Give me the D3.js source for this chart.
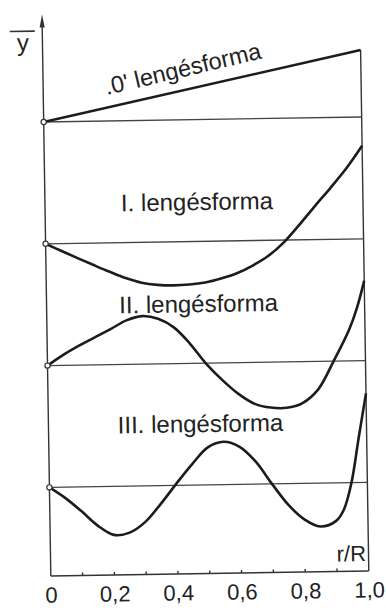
<!DOCTYPE html>
<html>
<head>
<meta charset="utf-8">
<script src="https://cdn.jsdelivr.net/npm/d3@7"></script>
<style>
  html, body { margin: 0; padding: 0; background: #fff; }
  svg { display: block; }
  text { font-family: "Liberation Sans", Arial, sans-serif; fill: #222; }
</style>
</head>
<body>
<svg id="chart" width="386" height="608"></svg>
<script>
// ---- data (relative deflection ȳ, arbitrary units) ----
const modeLabels = [".0' lengésforma", "I. lengésforma", "II. lengésforma", "III. lengésforma"];

const r0 = [0, 1];
const y0 = [0, 67];

const r1 = [0, 0.05, 0.1, 0.15, 0.2, 0.25, 0.3, 0.35, 0.4, 0.45, 0.5, 0.55, 0.6, 0.65, 0.7, 0.75, 0.8, 0.85, 0.9, 0.95, 1.0];
const y1 = [0, -7.5, -14.8, -22, -29, -35.5, -40.4, -42.8, -43.6, -43, -41.2, -37.5, -32.5, -25, -15.5, -2, 15.5, 34, 52, 71, 93];

const r2 = [0, 0.05, 0.1, 0.15, 0.2, 0.25, 0.3, 0.35, 0.4, 0.45, 0.5, 0.55, 0.6, 0.65, 0.7, 0.75, 0.8, 0.85, 0.9, 0.95, 0.975, 1.0];
const y2 = [0, 10.5, 19.5, 27.5, 35.5, 44, 48, 45, 36, 19.3, -1, -17.5, -31.5, -41.5, -45.5, -46, -41.5, -28, 0, 31, 52, 80];

const r3 = [0, 0.05, 0.1, 0.15, 0.2, 0.25, 0.3, 0.35, 0.4, 0.45, 0.5, 0.55, 0.6, 0.65, 0.7, 0.75, 0.8, 0.85, 0.9, 0.925, 0.95, 0.975, 1.0];
const y3 = [0, -11, -24.5, -39, -48.5, -46.5, -36, -18, 2, 21, 37.5, 42.8, 37.6, 22.5, 0, -21, -36, -43.4, -38, -26.7, 0, 45, 89];

const tickValuesMinor = [0.1, 0.2, 0.3, 0.4, 0.5, 0.6, 0.7, 0.8, 0.9];
const tickValuesLabel = [0, 0.2, 0.4, 0.6, 0.8, 1.0];
const tickLabels = ["0", "0,2", "0,4", "0,6", "0,8", "1,0"];
const xTitle = "r/R";
const yTitle = "y";

// ---- layout ----
const svg = d3.select("#chart");
const g = svg.append("g").attr("transform", "rotate(-0.9,205,300)");

const x = d3.scaleLinear().domain([0, 1]).range([46.5, 364.5]);
const base = d3.scaleLinear().domain([0, 3]).range([119.5, 484.9]);
const defl = d3.scaleLinear().domain([0, 100]).range([0, -100]);
const axisY = 573.5;
const ink = "#1c1c1c";

const series = [
  { r: r0, y: y0 },
  { r: r1, y: y1 },
  { r: r2, y: y2 },
  { r: r3, y: y3 }
];

// right boundary line
g.append("line")
  .attr("x1", x(1)).attr("x2", x(1))
  .attr("y1", base(0) + defl(y0[1])).attr("y2", axisY)
  .attr("stroke", "#333").attr("stroke-width", 1.4);

// baselines
series.forEach((s, i) => {
  g.append("line")
    .attr("x1", x(0)).attr("x2", x(1))
    .attr("y1", base(i)).attr("y2", base(i))
    .attr("stroke", "#444").attr("stroke-width", 1.3);
});

// bottom axis line + minor ticks
g.append("line")
  .attr("x1", x(0)).attr("x2", x(1))
  .attr("y1", axisY).attr("y2", axisY)
  .attr("stroke", "#333").attr("stroke-width", 1.4);
g.selectAll(".mt").data(tickValuesMinor).enter().append("line")
  .attr("x1", d => x(d)).attr("x2", d => x(d))
  .attr("y1", axisY).attr("y2", axisY - 3)
  .attr("stroke", "#333").attr("stroke-width", 1.4);

// tick labels via axis
const ax = g.append("g").attr("transform", `translate(0,${axisY})`)
  .call(d3.axisBottom(x).tickValues(tickValuesLabel)
    .tickFormat((d, i) => tickLabels[i]).tickSize(0).tickPadding(11));
ax.select(".domain").remove();
ax.selectAll("text").attr("font-size", 22).attr("fill", "#222")
  .attr("font-family", "Liberation Sans, Arial, sans-serif");

// left axis with arrow
g.append("line")
  .attr("x1", x(0)).attr("x2", x(0))
  .attr("y1", axisY).attr("y2", 20)
  .attr("stroke", "#333").attr("stroke-width", 1.4);
g.append("path")
  .attr("d", `M${x(0)},12 L${x(0) - 2.6},25 L${x(0) + 2.6},25 Z`)
  .attr("fill", "#333");

// curves
const line = d3.line()
  .x(d => x(d[0]))
  .y(d => d[2] + defl(d[1]))
  .curve(d3.curveCatmullRom.alpha(0.5));
series.forEach((s, i) => {
  const pts = s.r.map((rv, k) => [rv, s.y[k], base(i)]);
  g.append("path")
    .attr("d", line(pts))
    .attr("fill", "none")
    .attr("stroke", ink)
    .attr("stroke-width", 2.6)
    .attr("stroke-linejoin", "round");
});

// small circles at origin of each mode
series.forEach((s, i) => {
  g.append("circle")
    .attr("cx", x(0)).attr("cy", base(i)).attr("r", 2.6)
    .attr("fill", "#fff").attr("stroke", "#333").attr("stroke-width", 1.2);
});

// mode labels
g.append("text")
  .attr("transform", `translate(110,93.5) rotate(-12.4)`)
  .attr("font-size", 23.5)
  .text(modeLabels[0]);
const labelY = [null, 210, 312, 432];
[1, 2, 3].forEach(i => {
  g.append("text")
    .attr("x", x(0.478)).attr("y", labelY[i])
    .attr("text-anchor", "middle")
    .attr("font-size", 24)
    .text(modeLabels[i]);
});

// axis titles
g.append("text")
  .attr("x", 362).attr("y", 563.5)
  .attr("text-anchor", "end")
  .attr("font-size", 22)
  .text(xTitle);
g.append("text")
  .attr("x", 27).attr("y", 48)
  .attr("text-anchor", "middle")
  .attr("font-size", 24)
  .text(yTitle);
g.append("line")
  .attr("x1", 14).attr("x2", 39)
  .attr("y1", 28.5).attr("y2", 28.5)
  .attr("stroke", "#333").attr("stroke-width", 1.6);
</script>
</body>
</html>
